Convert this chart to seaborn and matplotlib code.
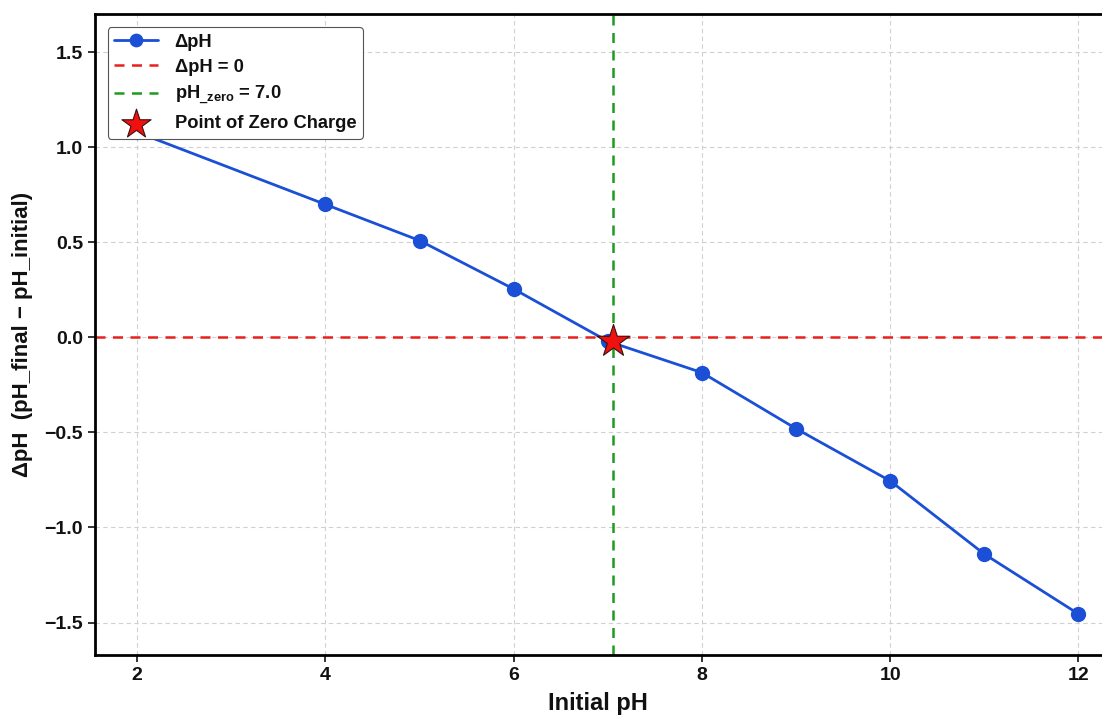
import matplotlib
matplotlib.use("Agg")
import matplotlib.pyplot as plt
import seaborn as sns
import pandas as pd

initial_ph = [2, 4, 5, 6, 7, 8, 9, 10, 11, 12]
delta_ph = [1.08, 0.70, 0.51, 0.255, -0.02, -0.185, -0.48, -0.755, -1.14, -1.455]
pzc_x = [7.05]
pzc_y = [-0.02]
x_ticks = [2, 4, 6, 8, 10, 12]
y_ticks = [-1.5, -1.0, -0.5, 0.0, 0.5, 1.0, 1.5]

sns.set_theme(style="white")
plt.rcParams['font.family'] = ['Liberation Sans', 'DejaVu Sans']
plt.rcParams['font.weight'] = 'bold'
plt.rcParams['text.color'] = '#111111'
plt.rcParams['axes.labelcolor'] = '#111111'
plt.rcParams['mathtext.fontset'] = 'custom'
plt.rcParams['mathtext.bf'] = 'Liberation Sans:bold'
plt.rcParams['mathtext.rm'] = 'Liberation Sans:bold'

df = pd.DataFrame({"x": initial_ph, "y": delta_ph})

fig = plt.figure(figsize=(11.02, 7.18), dpi=100)
ax = fig.add_axes([0.086, 0.088, 0.914, 0.892])
ax.set_facecolor("white")

sns.lineplot(data=df, x="x", y="y", ax=ax, color="#1a4fd6", linewidth=2,
             marker="o", markersize=11, markeredgewidth=0, label="ΔpH", zorder=3)
ax.axhline(0, color="#e8201c", linestyle="--", linewidth=1.8, dashes=(4, 3),
           label="ΔpH = 0", zorder=2)
ax.axvline(7.05, color="#1f9a1f", linestyle="--", linewidth=1.8, dashes=(4, 3),
           label=r"pH$_{\mathbf{\_zero}}$ = 7.0", zorder=2)
sns.scatterplot(x=pzc_x, y=pzc_y, ax=ax, marker="*", s=600, color="#f01010",
                edgecolor="#3a1010", linewidth=0.8, label="Point of Zero Charge", zorder=5)

ax.set_xlim(1.55, 12.25)
ax.set_ylim(-1.67, 1.70)
ax.set_xticks(x_ticks)
ax.set_xticklabels([str(t) for t in x_ticks])
ax.set_yticks(y_ticks)
ax.set_yticklabels([f"{t:.1f}".replace("-", "−") for t in y_ticks])
ax.tick_params(axis="both", labelsize=14, length=5, width=1.2, direction="out",
               bottom=True, left=True, colors="#111111")
for lbl in ax.get_xticklabels() + ax.get_yticklabels():
    lbl.set_fontweight("bold")

ax.grid(True, linestyle="--", color="#d0d0d0", linewidth=0.8, dashes=(4, 3))
for s in ax.spines.values():
    s.set_color("black")
    s.set_linewidth(2)
ax.spines["right"].set_visible(False)

ax.set_xlabel("Initial pH", fontsize=17, fontweight="bold", labelpad=6)
ax.set_ylabel("ΔpH  (pH_final − pH_initial)", fontsize=16, fontweight="bold", labelpad=8)

leg = ax.legend(loc="upper left", fontsize=13.2, frameon=True, framealpha=1,
                edgecolor="#555555", fancybox=True, borderpad=0.35, labelspacing=0.45,
                handlelength=2.4, handletextpad=0.9, borderaxespad=0.7, markerscale=0.9)
leg.get_frame().set_linewidth(0.8)
for t in leg.get_texts():
    t.set_fontweight("bold")
    t.set_color("#111111")

fig.savefig("out.png", dpi=100, facecolor="white")
